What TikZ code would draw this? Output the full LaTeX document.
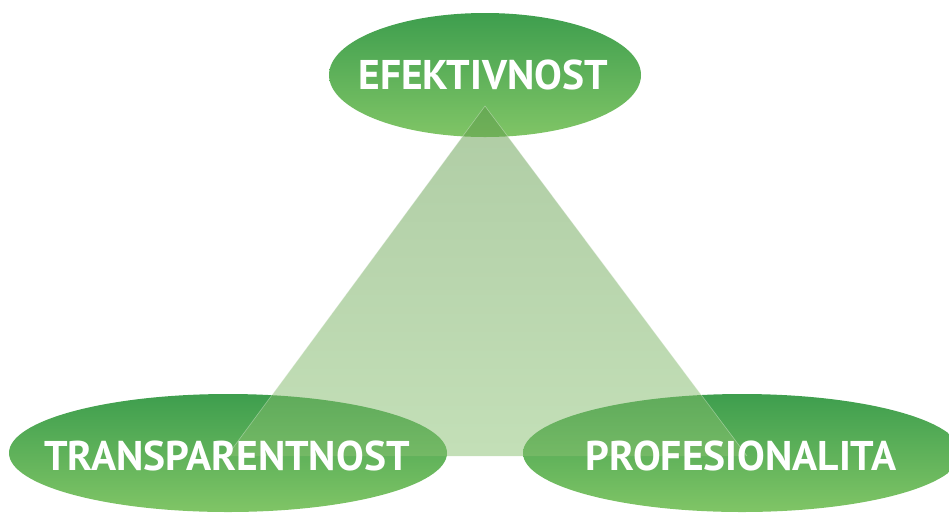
\documentclass[tikz,border=0pt]{standalone}
\usepackage{fontspec}
\setmainfont{PT Sans}
\usetikzlibrary{shapes.geometric}
\definecolor{gtop}{HTML}{3E9E4E}
\definecolor{gbot}{HTML}{80C566}
\definecolor{ttop}{HTML}{5F9A4A}
\definecolor{tbot}{HTML}{88C070}
\tikzset{
  oval/.style={ellipse, top color=gtop, bottom color=gbot, draw=none, inner sep=0pt},
  label/.style={text=white, font=\fontsize{41.5}{42}\selectfont\bfseries, inner sep=0pt, anchor=center},
}
\begin{document}
\begin{tikzpicture}[x=1pt,y=-1pt]
\useasboundingbox (0,0) rectangle (949,515);
\node[oval, minimum width=312pt, minimum height=124pt] (top) at (485,75) {};
\node[oval, minimum width=438pt, minimum height=118pt] (left) at (228,453) {};
\node[oval, minimum width=438pt, minimum height=118pt] (right) at (742,453) {};
\coordinate (apex) at (485,106);
\coordinate (bl) at (227,456);
\coordinate (br) at (747,456);
\shade[top color=ttop, bottom color=tbot, fill opacity=0.5] (apex) -- (bl) -- (br) -- cycle;
\draw[white, opacity=0.35, line width=0.6pt] (bl) -- (apex) -- (br);
\node[label] (t1) at (483,75) {EFEKTIVNOST};
\node[label] (t2) at (227,456) {TRANSPARENTNOST};
\node[label] (t3) at (741,456) {PROFESIONALITA};
\end{tikzpicture}
\end{document}
